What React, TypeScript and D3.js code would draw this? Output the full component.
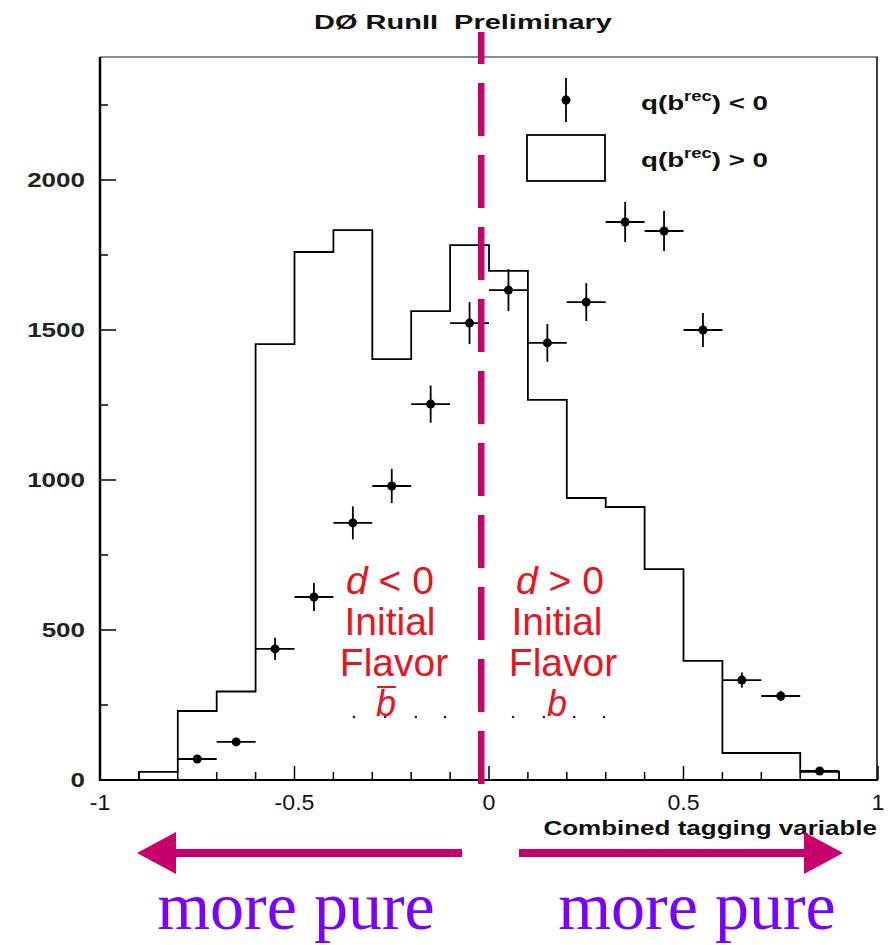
import React from "react";
import * as d3 from "d3";

// Histogram of q(b^rec) > 0 events, bins of width 0.1 starting at -0.9
const histStart = -0.9;
const binWidth = 0.1;
const histValues = [27, 230, 295, 1453, 1760, 1833, 1403, 1563, 1783, 1697, 1267, 940, 910, 703, 397, 90, 90, 27];

// Data points for q(b^rec) < 0 events
const pointX = [-0.75, -0.65, -0.55, -0.45, -0.35, -0.25, -0.15, -0.05, 0.05, 0.15, 0.25, 0.35, 0.45, 0.55, 0.65, 0.75, 0.85];
const pointY = [70, 127, 437, 610, 857, 980, 1253, 1523, 1633, 1457, 1593, 1860, 1830, 1500, 333, 280, 30];
const pointErr = [10, 13, 37, 47, 55, 57, 62, 70, 70, 63, 63, 67, 67, 57, 25, 17, 10];

const yTickValues = [0, 500, 1000, 1500, 2000];
const yMinorValues = [250, 750, 1250, 1750, 2250];
const xTickValues = [-1, -0.5, 0, 0.5, 1];
const xTickLabels = ["-1", "-0.5", "0", "0.5", "1"];

// Cut separating the two flavour hypotheses
const cutValue = -0.02;
// Stray dots beneath the flavour labels
const dotX = [-0.347, -0.267, -0.188, -0.113, 0.062, 0.141, 0.219, 0.296];
const dotLevel = 210;

const MAGENTA = "#c8006e";
const RED = "#e8141e";
const PURPLE = "#7a00ff";
const SANS = "'Liberation Sans', Arial, Helvetica, sans-serif";
const SERIF = "'Liberation Serif', 'Times New Roman', serif";

// Horizontally stretched text, anchored at (x, y)
function Wide(props: {
  x: number; y: number; sx: number; size: number; anchor?: string; bold?: boolean; fill?: string; children: React.ReactNode;
}) {
  const { x, y, sx, size, anchor = "start", bold = true, fill = "#111", children } = props;
  return (
    <text
      transform={`translate(${x},${y}) scale(${sx},1)`}
      textAnchor={anchor}
      fontFamily={SANS}
      fontWeight={bold ? "bold" : "normal"}
      fontSize={size}
      fill={fill}
    >
      {children}
    </text>
  );
}

export default function App() {
  const W = 888;
  const H = 945;
  const x = d3.scaleLinear().domain([-1, 1]).range([100, 878]);
  const y = d3.scaleLinear().domain([0, 2410]).range([780, 57]);

  // Histogram outline as a stepped path
  const pts: [number, number][] = [[histStart, 0]];
  histValues.forEach((v, i) => {
    const lo = histStart + i * binWidth;
    pts.push([lo, v]);
    pts.push([lo + binWidth, v]);
  });
  pts.push([histStart + histValues.length * binWidth, 0]);
  const histPath = d3.line<[number, number]>().x((d) => x(d[0])).y((d) => y(d[1]))(pts) || "";

  const minorX = d3.range(-9, 10).map((k) => k / 10).filter((v) => !xTickValues.some((t) => Math.abs(t - v) < 1e-6));

  const cx = x(cutValue);
  const arrowY = 853;

  return (
    <svg width={W} height={H} style={{ position: "absolute", left: 0, top: 0, background: "#fff" }}>
      <rect x={0} y={0} width={W} height={H} fill="#fff" />
      <Wide x={463} y={29} sx={1.38} size={21} anchor="middle">
        DØ RunII{"\u00a0\u00a0"}Preliminary
      </Wide>

      {/* frame */}
      <line x1={100} x2={878} y1={57} y2={57} stroke="#666" strokeWidth={1.5} />
      <line x1={877} x2={877} y1={57} y2={780} stroke="#000" strokeWidth={1.5} />
      <line x1={100} x2={100} y1={57} y2={781} stroke="#000" strokeWidth={2.5} />
      <line x1={99} x2={878} y1={780} y2={780} stroke="#000" strokeWidth={2} />

      {/* y ticks */}
      {yTickValues.map((v) => (
        <g key={"y" + v}>
          <line x1={100} x2={116} y1={y(v)} y2={y(v)} stroke="#000" strokeWidth={1.5} />
          <Wide x={85} y={y(v) + 7} sx={1.3} size={20} anchor="end" fill="#222">
            {v}
          </Wide>
        </g>
      ))}
      {yMinorValues.map((v) => (
        <line key={"ym" + v} x1={100} x2={108} y1={y(v)} y2={y(v)} stroke="#000" strokeWidth={1.5} />
      ))}

      {/* x ticks */}
      {xTickValues.map((v, i) => (
        <g key={"x" + v}>
          <line x1={x(v)} x2={x(v)} y1={780} y2={766} stroke="#000" strokeWidth={1.5} />
          <Wide x={x(v)} y={810} sx={1.05} size={22} anchor="middle" bold={false}>
            {xTickLabels[i]}
          </Wide>
        </g>
      ))}
      {minorX.map((v) => (
        <line key={"xm" + v} x1={x(v)} x2={x(v)} y1={780} y2={772} stroke="#000" strokeWidth={1.5} />
      ))}
      <Wide x={877} y={835} sx={1.3} size={20} anchor="end">
        Combined tagging variable
      </Wide>

      {/* histogram */}
      <path d={histPath} fill="none" stroke="#000" strokeWidth={1.8} />

      {/* data points */}
      {pointX.map((px, i) => (
        <g key={"p" + i}>
          <line x1={x(px - binWidth / 2)} x2={x(px + binWidth / 2)} y1={y(pointY[i])} y2={y(pointY[i])} stroke="#000" strokeWidth={1.8} />
          <line x1={x(px)} x2={x(px)} y1={y(pointY[i] - pointErr[i])} y2={y(pointY[i] + pointErr[i])} stroke="#000" strokeWidth={1.8} />
          <circle cx={x(px)} cy={y(pointY[i])} r={4.5} fill="#000" />
        </g>
      ))}

      {/* legend */}
      <line x1={566} x2={566} y1={78} y2={122} stroke="#000" strokeWidth={1.8} />
      <circle cx={566} cy={100} r={4.5} fill="#000" />
      <Wide x={641} y={110} sx={1.32} size={21}>
        q(b<tspan dy={-9} fontSize={14}>rec</tspan><tspan dy={9}>) &lt; 0</tspan>
      </Wide>
      <rect x={527} y={135} width={78} height={46} fill="none" stroke="#000" strokeWidth={1.8} />
      <Wide x={641} y={167} sx={1.32} size={21}>
        q(b<tspan dy={-9} fontSize={14}>rec</tspan><tspan dy={9}>) &gt; 0</tspan>
      </Wide>

      {/* dots under labels */}
      {dotX.map((v, i) => (
        <circle key={"d" + i} cx={x(v)} cy={y(dotLevel)} r={1.3} fill="#222" />
      ))}

      {/* flavour labels */}
      <g fontFamily={SANS} fontSize={39} fill={RED} textAnchor="middle">
        <text x={390} y={594}>
          <tspan fontStyle="italic">d</tspan> &lt; 0
        </text>
        <text x={390} y={635}>Initial</text>
        <text x={394} y={676}>Flavor</text>
        <text x={386} y={716} fontStyle="italic" fontSize={36}>b</text>
        <line x1={377} x2={396} y1={687} y2={687} stroke={RED} strokeWidth={2} />
        <text x={560} y={594}>
          <tspan fontStyle="italic">d</tspan> &gt; 0
        </text>
        <text x={557} y={635}>Initial</text>
        <text x={563} y={676}>Flavor</text>
        <text x={557} y={716} fontStyle="italic" fontSize={36}>b</text>
      </g>

      {/* cut line */}
      <line x1={cx} x2={cx} y1={32} y2={784} stroke={MAGENTA} strokeWidth={6.5} strokeDasharray="53 19" strokeDashoffset={21} />

      {/* purity arrows */}
      <g fill={MAGENTA}>
        <rect x={175} y={arrowY - 4} width={287} height={8} />
        <polygon points={`137,${arrowY} 176,${arrowY - 21} 176,${arrowY + 21}`} />
        <rect x={519} y={arrowY - 4} width={287} height={8} />
        <polygon points={`843,${arrowY} 804,${arrowY - 21} 804,${arrowY + 21}`} />
      </g>
      <text x={296} y={929} textAnchor="middle" fontFamily={SERIF} fontSize={68} fill={PURPLE}>
        more pure
      </text>
      <text x={697} y={929} textAnchor="middle" fontFamily={SERIF} fontSize={68} fill={PURPLE}>
        more pure
      </text>
    </svg>
  );
}
